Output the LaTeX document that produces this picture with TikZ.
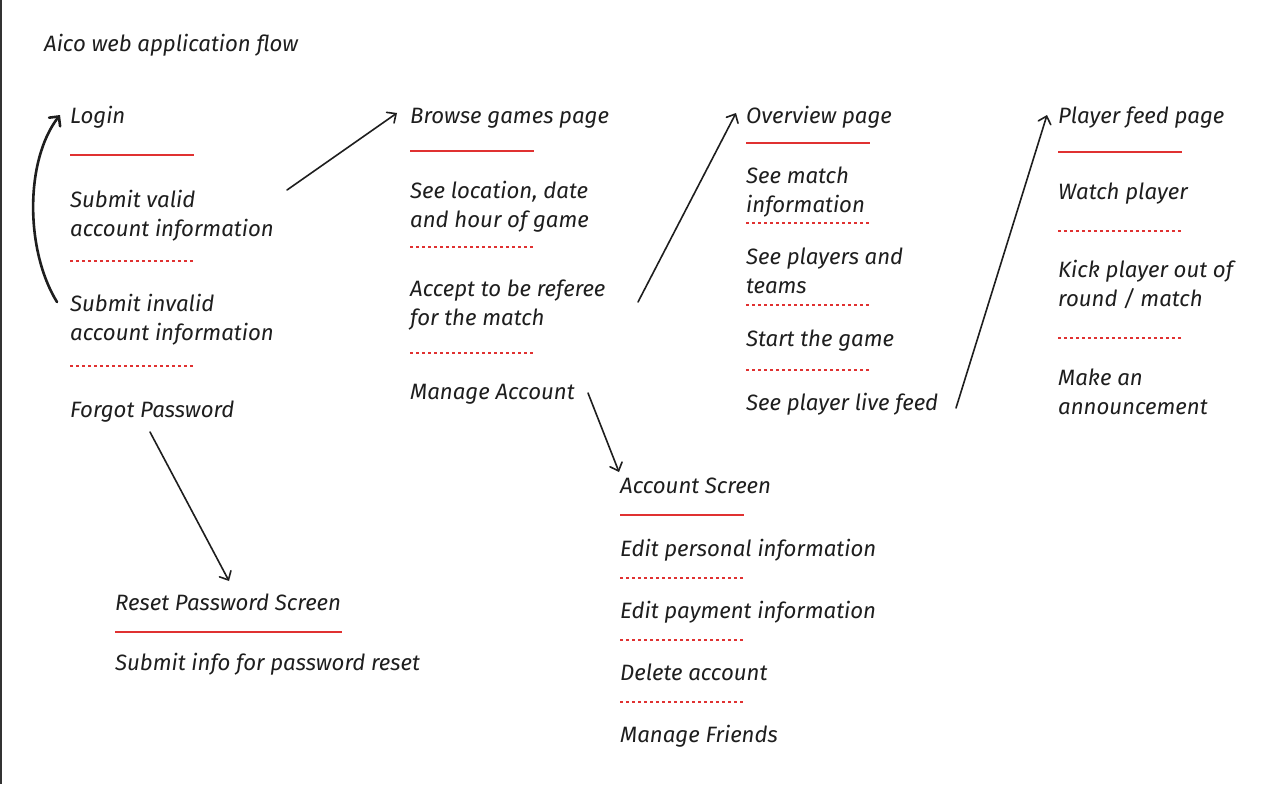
\documentclass[tikz,border=0pt]{standalone}
\usepackage{fontspec}
\setmainfont{Fira Sans}
\usetikzlibrary{arrows.meta}
\definecolor{ink}{HTML}{1E1E1E}
\definecolor{redline}{HTML}{E03131}
\definecolor{frame}{HTML}{333333}
\begin{document}
\begin{tikzpicture}[x=1pt,y=-1pt,
  txt/.style={anchor=base west, inner sep=0pt, align=left,
    font=\fontsize{22.2}{29}\selectfont\itshape, text=ink},
  solidsep/.style={draw=redline, line width=1.6pt},
  dotsep/.style={draw=redline, line width=1.4pt, dash pattern=on 2.5pt off 3.5pt},
  flow/.style={draw=ink, line width=1.6pt, line cap=round,
    -{Straight Barb[length=7pt,width=13pt,line cap=round]}},
  bigflow/.style={draw=ink, line width=2.6pt, line cap=round,
    -{Straight Barb[length=7pt,width=14pt,line cap=round]}},
]
\useasboundingbox (0,0) rectangle (1273,784);
\fill[white] (0,0) rectangle (1273,784);
\fill[frame] (0,0) rectangle (2,784);

% title
\node[txt] (title) at (44,52) {Aico web application flow};

% column 1
\node[txt] (login) at (70,123) {Login};
\draw[solidsep] (70,155) -- (194,155);
\node[txt] (valid) at (70,236) {Submit valid\\account information};
\draw[dotsep] (70,261) -- (194,261);
\node[txt] (invalid) at (70,340) {Submit invalid\\account information};
\draw[dotsep] (70,366) -- (194,366);
\node[txt] (forgot) at (70,417) {Forgot Password};

% reset password
\node[txt] (reset) at (115,610) {Reset Password Screen};
\draw[solidsep] (115,632) -- (342,632);
\node[txt] (resetinfo) at (115,670) {Submit info for password reset};

% column 2
\node[txt] (browse) at (410,123) {Browse games page};
\draw[solidsep] (410,151) -- (534,151);
\node[txt] (location) at (410,227) {See location, date\\and hour of game};
\draw[dotsep] (410,247) -- (534,247);
\node[txt] (accept) at (410,325) {Accept to be referee\\for the match};
\draw[dotsep] (410,353) -- (534,353);
\node[txt] (manage) at (410,399) {Manage Account};

% column 3
\node[txt] (overview) at (746,123) {Overview page};
\draw[solidsep] (746,143) -- (870,143);
\node[txt] (matchinfo) at (746,212) {See match\\information};
\draw[dotsep] (746,223) -- (870,223);
\node[txt] (players) at (746,293) {See players and\\teams};
\draw[dotsep] (746,305) -- (870,305);
\node[txt] (start) at (746,346) {Start the game};
\draw[dotsep] (746,370) -- (870,370);
\node[txt] (live) at (746,410) {See player live feed};

% column 4
\node[txt] (feed) at (1058,123) {Player feed page};
\draw[solidsep] (1058,152) -- (1182,152);
\node[txt] (watch) at (1058,199) {Watch player};
\draw[dotsep] (1058,231) -- (1182,231);
\node[txt] (kick) at (1058,306) {Kick player out of\\round / match};
\draw[dotsep] (1058,338) -- (1182,338);
\node[txt] (announce) at (1058,414) {Make an\\announcement};

% account screen
\node[txt] (account) at (620,493) {Account Screen};
\draw[solidsep] (620,515) -- (744,515);
\node[txt] (personal) at (620,556) {Edit personal information};
\draw[dotsep] (620,578) -- (744,578);
\node[txt] (payment) at (620,618) {Edit payment information};
\draw[dotsep] (620,640) -- (744,640);
\node[txt] (delete) at (620,680) {Delete account};
\draw[dotsep] (620,702) -- (744,702);
\node[txt] (friends) at (620,742) {Manage Friends};

% connectors
\draw[bigflow] ([shift={(-13,-38)}]invalid.base west)
  .. controls ([shift={(-45,-90)}]invalid.base west) and ([shift={(-45,37)}]login.base west)
  .. ([shift={(-10,-8)}]login.base west);
\draw[flow] ([shift={(217,-46)}]valid.base west) -- ([shift={(-13,-10)}]browse.base west);
\draw[flow] ([shift={(80,15)}]forgot.base west) -- ([shift={(114,-29)}]reset.base west);
\draw[flow] ([shift={(228,-23)}]accept.base west) -- ([shift={(-10,-10)}]overview.base west);
\draw[flow] ([shift={(178,-6)}]manage.base west) -- ([shift={(-1,-21)}]account.base west);
\draw[flow] ([shift={(210,-2)}]live.base west) -- ([shift={(-11,-8)}]feed.base west);
\end{tikzpicture}
\end{document}
